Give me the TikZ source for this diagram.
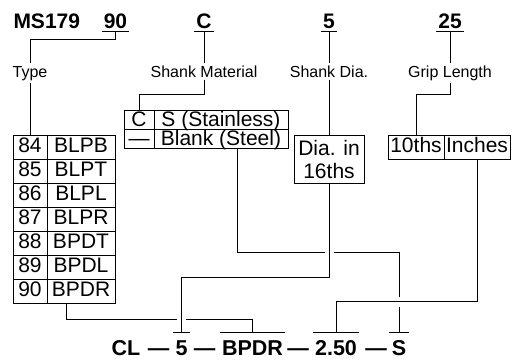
\documentclass[tikz,border=0pt]{standalone}
\usepackage{fontspec}
\setmainfont{Liberation Sans}
\usetikzlibrary{calc}
\begin{document}
\begin{tikzpicture}[x=1pt,y=-1pt,line width=1pt,
  topnum/.style={font=\fontsize{21}{21}\selectfont\bfseries, anchor=base, inner xsep=1.5pt, inner ysep=0pt, text depth=0pt},
  lbl/.style={font=\fontsize{16}{16}\selectfont, anchor=base, inner xsep=1pt, inner ysep=2pt},
  cell/.style={draw, line width=1pt, inner sep=0pt, font=\fontsize{21}{21}\selectfont, text height=15pt, text depth=4pt, minimum height=24pt},
  scell/.style={cell, minimum height=19pt, text depth=1pt},
  diabox/.style={draw, line width=1pt, inner sep=0pt, font=\fontsize{21}{23}\selectfont, align=center, minimum width=70pt, minimum height=48pt},
  botnum/.style={font=\fontsize{21.5}{21.5}\selectfont\bfseries, anchor=base, inner sep=0pt, text height=15.4pt, text depth=0pt},
  gapfill/.style={fill=white},
]
\path[use as bounding box] (0,0) rectangle (517,360);

% top code
\node[topnum, anchor=base west, inner xsep=0pt] (ms) at (13,28) {MS179};
\node[topnum] (t90) at (115.5,28) {90};
\node[topnum] (tC) at (204,28) {C};
\node[topnum] (t5) at (329,28) {5};
\node[topnum] (t25) at (450,28) {25};
\foreach \n in {t90,tC,t5,t25}
  \draw ([yshift=-3pt]\n.south west) -- ([yshift=-3pt]\n.south east);

% labels
\node[lbl] (lType) at (30,77) {Type};
\node[lbl] (lShank) at (204,77) {Shank Material};
\node[lbl] (lDia) at (329,77) {Shank Dia.};
\node[lbl] (lGrip) at (450,77) {Grip Length};

% type table
\foreach \n/\t [count=\i from 0] in {84/BLPB,85/BLPT,86/BLPL,87/BLPR,88/BPDT,89/BPDL,90/BPDR} {
  \node[cell, minimum width=34pt] (tn\n) at (30,147+24*\i) {\n};
  \node[cell, minimum width=68pt] (tt\n) at (81,147+24*\i) {\t};
}

% shank material table
\node[scell, minimum width=30pt] (sC) at (139,119.5) {C};
\node[scell, minimum width=134pt] (sS) at (221,119.5) {S (Stainless)};
\node[scell, minimum width=30pt] (sDash) at (139,138.5) {—};
\node[scell, minimum width=134pt] (sBlank) at (221,138.5) {Blank (Steel)};

% diameter box
\node[diabox] (dia) at (329,159) {Dia. in\\16ths};

% grip table
\node[cell, minimum width=56pt] (g10) at (416,147) {10ths};
\node[cell, minimum width=66pt] (gIn) at (477,147) {Inches};

% bottom code
\node[botnum] (bCL) at (126,355) {CL};
\node[botnum] (d1) at (158.5,355) {—};
\node[botnum] (b5) at (181.5,355) {5};
\node[botnum] (d2) at (204.5,355) {—};
\node[botnum] (bB) at (252.5,355) {BPDR};
\node[botnum] (d3) at (298,355) {—};
\node[botnum] (b250) at (336,355) {2.50};
\node[botnum] (d4) at (376,355) {—};
\node[botnum] (bS) at (399,355) {S};
\foreach \n in {b5,bB,b250,bS}
  \draw ([shift={(-2pt,6.5pt)}]\n.north west) -- ([shift={(2pt,6.5pt)}]\n.north east);
\coordinate (k5) at ([yshift=6.5pt]b5.north);
\coordinate (kB) at ([yshift=6.5pt]bB.north);
\coordinate (k250) at ([yshift=6.5pt]b250.north);
\coordinate (kS) at ([yshift=6.5pt]bS.north);

% top connectors
\draw ([yshift=-3pt]t90.south) -- ++(0,8) -| (lType.north);
\draw ([yshift=-3pt]tC.south) -- (lShank.north);
\draw ([yshift=-3pt]t5.south) -- (lDia.north);
\draw ([yshift=-3pt]t25.south) -- (lGrip.north);
\draw (lType.south) -- (tn84.north);
\draw (lShank.south) |- ($(sC.north)+(0,-15)$) -- (sC.north);
\draw (lDia.south) -- (dia.north);
\draw (lGrip.south) |- ($(g10.north)+(0,-40)$) -- (g10.north);

% bottom connectors (lower layer)
\draw ($(tt90.south west)+(20,0)$) |- ($(kB)+(0,-13)$) -- (kB);
\draw ($(sBlank.south)+(16,0)$) |- ($(kS)+(0,-80)$) -- (kS);
% crossing gaps
\fill[gapfill] ($(k5 |- kB)+(-4.5,-15)$) rectangle ($(k5 |- kB)+(4.5,-11)$);
\fill[gapfill] ($(dia.south |- kS)+(-4.5,-82)$) rectangle ($(dia.south |- kS)+(4.5,-78)$);
\fill[gapfill] ($(kS |- k250)+(-2,-36)$) rectangle ($(kS |- k250)+(2,-26)$);
% bottom connectors (upper layer)
\draw (dia.south) |- ($(k5)+(0,-55)$) -- (k5);
\draw (gIn.south) |- ($(k250)+(0,-31)$) -- (k250);
\end{tikzpicture}
\end{document}
